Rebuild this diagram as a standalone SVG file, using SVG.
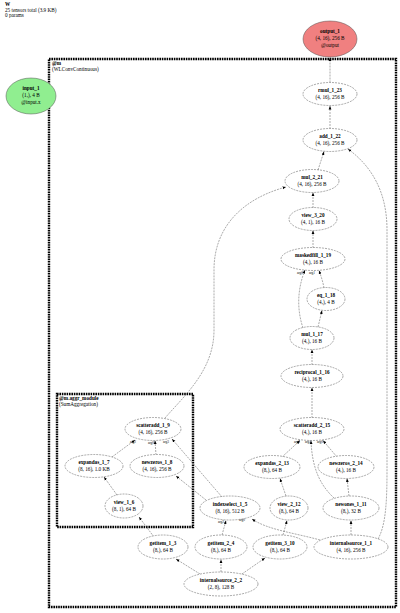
<svg xmlns="http://www.w3.org/2000/svg" width="400" height="613" viewBox="0 0 400 613">
<style>
text{font-family:"Liberation Serif","DejaVu Serif",serif;font-size:5.2px;fill:#000;text-anchor:middle}
.t{text-anchor:start}
.b{font-weight:bold}
.n{fill:#fff;stroke:#555;stroke-width:0.5;stroke-dasharray:2 1}
.e{fill:none;stroke:#555;stroke-width:0.5;stroke-dasharray:2 1;marker-end:url(#a)}
.box{fill:none;stroke:#000;stroke-width:2.4;stroke-dasharray:1.6 0.8}
.l{font-size:3.4px}
</style>
<defs>
<marker id="a" markerUnits="userSpaceOnUse" markerWidth="4" markerHeight="4" refX="3.5" refY="2" orient="auto"><path d="M0,0.6 L3.5,2 L0,3.4 Z" fill="#000"/></marker>
</defs>
<rect width="400" height="613" fill="#fff"/>
<g id="header">
<text class="t b" x="5" y="6">W</text>
<text class="t" x="5" y="11.5">25 tensors total (3.9 KB)</text>
<text class="t" x="5" y="17">0 params</text>
</g>
<g id="cluster_m">
<rect class="box" x="49" y="59" width="347" height="548"/>
<text class="t b" x="52" y="65">@m</text>
<text class="t" x="52" y="71">(WLConvContinuous)</text>
</g>
<g id="cluster_aggr">
<rect class="box" x="57" y="394" width="136" height="133"/>
<text class="t b" x="59" y="400">@m.aggr_module</text>
<text class="t" x="59" y="405.5">(SumAggregation)</text>
</g>
<g id="connectors">
<path class="e" d="M330,82.5 L330,57.5"/>
<path class="e" d="M330,129 L330,106"/>
<path class="e" d="M318,170 L324,151.5"/>
<path class="e" d="M378,539 C386,525 387,500 387,470 L387,230 C387,190 370,165 348,149"/>
<path class="e" d="M313,208 L313,192.5"/>
<path class="e" d="M165,418 C185,395 214,370 214,330 L214,270 C214,225 245,198 286,187"/>
<path class="e" d="M313,248 L313,230.5"/>
<path class="e" d="M303,328 C297,310 297,290 305,270"/>
<path class="e" d="M324,288 C323,282 321,276 319,270.5"/>
<path class="e" d="M318,327 L322,310.5"/>
<path class="e" d="M312,365 L312,349.5"/>
<path class="e" d="M312,418 L312,387.5"/>
<path class="e" d="M282,457 L300,440.5"/>
<path class="e" d="M337,457 L323,440.5"/>
<path class="e" d="M334,498 C320,485 312,468 311,440.5"/>
<path class="e" d="M286,496 L280,478.5"/>
<path class="e" d="M349,496 L347,478.5"/>
<path class="e" d="M351,535 L351,520.5"/>
<path class="e" d="M283,535 L287,520.5"/>
<path class="e" d="M320,540 C295,533 268,530 252,519"/>
<path class="e" d="M222,535 L226,520.5"/>
<path class="e" d="M200,574 L176,559"/>
<path class="e" d="M221,572 L221,559.5"/>
<path class="e" d="M242,574 L265,558"/>
<path class="e" d="M154,537 L139,517"/>
<path class="e" d="M117,495 L104,477"/>
<path class="e" d="M112,457 L135,440"/>
<path class="e" d="M156,455 L155,440.5"/>
<path class="e" d="M222,497 L172,439"/>
<path class="e" d="M206,500 L176,476"/>
<text class="l" x="300" y="274">arg0</text>
<text class="l" x="312" y="274">arg1</text>
<text class="l" x="297" y="443">arg2</text>
<text class="l" x="308" y="443">arg3</text>
<text class="l" x="320" y="443">arg0</text>
<text class="l" x="133" y="443">arg2</text>
<text class="l" x="151" y="444">arg0</text>
<text class="l" x="166" y="443">arg3</text>
<text class="l" x="221" y="523">arg2</text>
<text class="l" x="242" y="521">arg0</text>
</g>
<g id="output_1"><ellipse cx="330" cy="39" rx="27" ry="18" fill="#f08080" stroke="#555" stroke-width="0.5"/><text class="b" x="330" y="33">output_1</text><text x="330" y="40">(4, 16), 256 B</text><text x="330" y="47">@output</text></g>
<g id="input_1"><ellipse cx="31" cy="96" rx="25" ry="18" fill="#90ee90" stroke="#555" stroke-width="0.5"/><text class="b" x="31" y="90">input_1</text><text x="31" y="97">(1,), 4 B</text><text x="31" y="104">@input.x</text></g>
<g id="rmul_1_23"><ellipse class="n" cx="330" cy="94" rx="27" ry="11.5"/><text class="b" x="330" y="92">rmul_1_23</text><text x="330" y="99">(4, 16), 256 B</text></g>
<g id="add_1_22"><ellipse class="n" cx="330" cy="140" rx="27" ry="11.5"/><text class="b" x="330" y="138">add_1_22</text><text x="330" y="145">(4, 16), 256 B</text></g>
<g id="mul_2_21"><ellipse class="n" cx="312" cy="181" rx="27" ry="11.5"/><text class="b" x="312" y="179">mul_2_21</text><text x="312" y="186">(4, 16), 256 B</text></g>
<g id="view_3_20"><ellipse class="n" cx="313" cy="219" rx="24" ry="11.5"/><text class="b" x="313" y="217">view_3_20</text><text x="313" y="224">(4, 1), 16 B</text></g>
<g id="maskedfill_1_19"><ellipse class="n" cx="313" cy="259" rx="32" ry="11.5"/><text class="b" x="313" y="257">maskedfill_1_19</text><text x="313" y="264">(4,), 16 B</text></g>
<g id="eq_1_18"><ellipse class="n" cx="326" cy="299" rx="19" ry="11.5"/><text class="b" x="326" y="297">eq_1_18</text><text x="326" y="304">(4,), 4 B</text></g>
<g id="mul_1_17"><ellipse class="n" cx="312" cy="338" rx="22" ry="11.5"/><text class="b" x="312" y="336">mul_1_17</text><text x="312" y="343">(4,), 16 B</text></g>
<g id="reciprocal_1_16"><ellipse class="n" cx="312" cy="376" rx="31" ry="11.5"/><text class="b" x="312" y="374">reciprocal_1_16</text><text x="312" y="381">(4,), 16 B</text></g>
<g id="scatteradd_2_15"><ellipse class="n" cx="312" cy="429" rx="32" ry="11.5"/><text class="b" x="312" y="427">scatteradd_2_15</text><text x="312" y="434">(4,), 16 B</text></g>
<g id="expandas_2_13"><ellipse class="n" cx="272" cy="467" rx="28" ry="11.5"/><text class="b" x="272" y="465">expandas_2_13</text><text x="272" y="472">(8,), 64 B</text></g>
<g id="newzeros_2_14"><ellipse class="n" cx="346" cy="467" rx="28" ry="11.5"/><text class="b" x="346" y="465">newzeros_2_14</text><text x="346" y="472">(4,), 16 B</text></g>
<g id="view_2_12"><ellipse class="n" cx="289" cy="508" rx="19" ry="12"/><text class="b" x="289" y="506">view_2_12</text><text x="289" y="513">(8,), 64 B</text></g>
<g id="newones_1_11"><ellipse class="n" cx="351" cy="508" rx="28" ry="12"/><text class="b" x="351" y="506">newones_1_11</text><text x="351" y="513">(8,), 32 B</text></g>
<g id="indexselect_1_5"><ellipse class="n" cx="230" cy="508" rx="30" ry="12"/><text class="b" x="230" y="506">indexselect_1_5</text><text x="230" y="513">(8, 16), 512 B</text></g>
<g id="internalsource_1_1"><ellipse class="n" cx="351" cy="547" rx="37" ry="12"/><text class="b" x="351" y="545">internalsource_1_1</text><text x="351" y="552">(4, 16), 256 B</text></g>
<g id="getitem_3_10"><ellipse class="n" cx="280" cy="547" rx="27" ry="12"/><text class="b" x="280" y="545">getitem_3_10</text><text x="280" y="552">(8,), 64 B</text></g>
<g id="getitem_2_4"><ellipse class="n" cx="221" cy="547" rx="26" ry="12"/><text class="b" x="221" y="545">getitem_2_4</text><text x="221" y="552">(8,), 64 B</text></g>
<g id="getitem_1_3"><ellipse class="n" cx="163" cy="547" rx="25" ry="12"/><text class="b" x="163" y="545">getitem_1_3</text><text x="163" y="552">(8,), 64 B</text></g>
<g id="internalsource_2_2"><ellipse class="n" cx="221" cy="584" rx="37" ry="12"/><text class="b" x="221" y="582">internalsource_2_2</text><text x="221" y="589">(2, 8), 128 B</text></g>
<g id="scatteradd_1_9"><ellipse class="n" cx="153" cy="429" rx="28" ry="11.5"/><text class="b" x="153" y="427">scatteradd_1_9</text><text x="153" y="434">(4, 16), 256 B</text></g>
<g id="expandas_1_7"><ellipse class="n" cx="94" cy="466" rx="29" ry="11.5"/><text class="b" x="94" y="464">expandas_1_7</text><text x="94" y="471">(8, 16), 1.0 KB</text></g>
<g id="newzeros_1_8"><ellipse class="n" cx="157" cy="466" rx="27" ry="11.5"/><text class="b" x="157" y="464">newzeros_1_8</text><text x="157" y="471">(4, 16), 256 B</text></g>
<g id="view_1_6"><ellipse class="n" cx="124" cy="506" rx="19" ry="12"/><text class="b" x="124" y="504">view_1_6</text><text x="124" y="511">(8, 1), 64 B</text></g>
</svg>
